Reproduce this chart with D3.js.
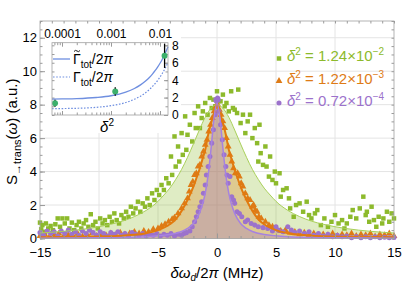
<!DOCTYPE html>
<html>
<head>
<meta charset="utf-8">
<script src="https://cdn.jsdelivr.net/npm/d3@7"></script>
<style>
  body { margin: 0; background: #fff; }
  svg { display: block; font-family: "Liberation Sans", Arial, sans-serif; }
  .tick line { stroke: #9a9a9a; }
</style>
</head>
<body>
<div id="chart"></div>
<script>
// main plot tick labels
var xTicks = [-15, -10, -5, 0, 5, 10, 15];
var yTicks = [0, 2, 4, 6, 8, 10, 12];

// legend text (delta^2 values)
var legendMant = ["1.24", "1.22", "0.72"];
var legendExp = ["\u22122", "\u22123", "\u22124"];

// measured spectra, [detuning MHz, S]
var greenPts = [[-15,0.95],[-14.9,0.55],[-14.8,0.8],[-14.6,0.4],[-14.5,0.9],[-14.3,0.6],[-14.1,0.75],[-13.9,0.5],[-13.7,0.85],[-13.5,1.2],[-13.3,0.7],[-13.1,1.2],[-12.9,0.9],[-12.7,1.2],[-12.5,0.6],[-12.3,0.95],[-12.1,0.5],[-11.9,0.8],[-11.7,1.0],[-11.5,0.6],[-11.3,0.9],[-11.1,1.1],[-10.9,0.7],[-10.7,1.45],[-10.5,0.8],[-10.3,1.0],[-10.1,0.6],[-9.9,1.2],[-9.7,0.9],[-9.5,1.1],[-9.3,0.8],[-9.1,1.3],[-8.9,1.0],[-8.7,1.5],[-8.5,1.1],[-8.3,0.9],[-8.1,1.4],[-7.9,1.2],[-7.7,1.6],[-7.5,1.3],[-7.3,1.9],[-7.1,1.5],[-6.9,1.8],[-6.7,2.2],[-6.5,1.6],[-6.3,2.1],[-6.1,1.9],[-5.9,2.4],[-5.7,2.0],[-5.5,2.7],[-5.3,2.3],[-5.1,2.9],[-4.9,2.6],[-4.7,3.2],[-4.5,2.9],[-4.3,3.6],[-4.1,3.3],[-3.9,4.9],[-3.8,3.8],[-3.6,6.1],[-3.5,4.3],[-3.3,5.5],[-3.2,4.6],[-3.0,6.3],[-2.9,5.0],[-2.7,7.3],[-2.6,5.3],[-2.5,6.2],[-2.3,6.8],[-2.1,5.8],[-1.9,7.5],[-1.8,6.6],[-1.6,7.9],[-1.45,6.6],[-1.3,7.2],[-1.2,7.6],[-1.0,8.1],[-0.8,7.4],[-0.6,8.4],[-0.45,7.8],[-0.3,8.3],[-0.15,7.9],[0,8.8],[0.1,8.2],[0.3,8.2],[0.5,8.6],[0.65,7.9],[0.8,8.1],[1.0,7.6],[1.2,8.8],[1.35,7.8],[1.5,7.7],[1.7,7.5],[1.8,8.9],[2.0,6.9],[2.2,7.4],[2.4,6.3],[2.6,7.0],[2.8,7.4],[3.0,6.0],[3.2,6.6],[3.4,5.7],[3.5,4.6],[3.6,6.8],[3.7,5.1],[3.9,4.4],[4.1,5.5],[4.2,4.3],[4.4,3.7],[4.5,4.9],[4.7,3.5],[4.9,4.0],[5.0,3.3],[5.3,3.9],[5.4,2.5],[5.6,2.9],[5.9,3.0],[6.1,2.4],[6.2,1.8],[6.5,1.3],[6.7,2.0],[7.0,2.1],[7.3,1.6],[7.6,2.2],[7.8,1.4],[8.0,1.2],[8.3,1.5],[8.5,1.7],[8.8,0.8],[9.1,1.2],[9.4,0.7],[9.7,1.0],[10.0,1.4],[10.3,0.9],[10.6,1.1],[10.8,0.6],[11.0,0.9],[11.3,1.3],[11.5,1.7],[11.8,1.2],[12.1,1.8],[12.4,2.5],[12.6,1.4],[12.7,1.6],[12.9,1.0],[13.1,1.9],[13.3,1.1],[13.5,0.7],[13.7,1.3],[14.0,0.9],[14.1,1.2],[14.4,1.6],[14.6,1.0],[14.8,1.5],[15.0,1.2]];

var orangePts = [[-15,0.15],[-14.6,0.25],[-14.2,0.1],[-13.8,0.2],[-13.4,0.3],[-13.0,0.12],[-12.6,0.22],[-12.2,0.15],[-11.8,0.28],[-11.4,0.12],[-11.0,0.2],[-10.6,0.3],[-10.2,0.15],[-9.8,0.25],[-9.4,0.18],[-9.0,0.3],[-8.6,0.2],[-8.2,0.35],[-7.8,0.25],[-7.4,0.3],[-7.0,0.4],[-6.6,0.3],[-6.2,0.45],[-5.8,0.4],[-5.4,0.55],[-5.0,0.6],[-4.7,0.75],[-4.4,0.85],[-4.1,1.0],[-3.8,1.15],[-3.6,1.25],[-3.3,1.5],[-3.0,1.8],[-2.75,2.1],[-2.5,2.4],[-2.35,2.8],[-2.2,3.2],[-2.05,3.4],[-1.9,3.8],[-1.75,3.9],[-1.6,4.3],[-1.45,4.4],[-1.3,4.9],[-1.15,5.2],[-1.0,5.6],[-0.85,5.9],[-0.7,6.4],[-0.55,6.8],[-0.4,7.2],[-0.25,7.6],[-0.1,7.9],[0.05,8.0],[0.2,7.7],[0.35,7.4],[0.5,7.0],[0.65,6.6],[0.8,6.0],[0.95,5.5],[1.1,5.0],[1.25,4.6],[1.4,4.2],[1.55,3.9],[1.75,3.9],[1.9,3.7],[2.05,3.3],[2.2,3.1],[2.4,2.7],[2.6,2.4],[2.8,2.3],[3.0,1.9],[3.1,2.0],[3.25,1.7],[3.4,1.6],[3.55,1.3],[3.75,1.2],[4.1,1.0],[4.4,0.8],[4.7,0.7],[5.0,0.6],[5.4,0.45],[5.8,0.5],[6.2,0.35],[6.6,0.4],[7.0,0.25],[7.4,0.35],[7.8,0.2],[8.2,0.3],[8.6,0.15],[9.0,0.25],[9.4,0.2],[9.8,0.3],[10.2,0.15],[10.6,0.25],[11.0,0.2],[11.4,0.3],[11.8,0.15],[12.2,0.25],[12.6,0.2],[13.0,0.3],[13.4,0.12],[13.8,0.25],[14.2,0.2],[14.6,0.3],[15.0,0.15]];

var purplePts = [[-15,0.35],[-14.7,0.2],[-14.4,0.45],[-14.1,0.3],[-13.8,0.4],[-13.5,0.15],[-13.2,0.45],[-12.9,0.3],[-12.6,0.5],[-12.3,0.25],[-12.0,0.4],[-11.7,0.2],[-11.4,0.45],[-11.1,0.3],[-10.8,0.5],[-10.5,0.35],[-10.2,0.2],[-9.9,0.4],[-9.6,0.3],[-9.3,0.15],[-9.0,0.35],[-8.7,0.25],[-8.4,0.4],[-8.1,0.2],[-7.8,0.3],[-7.5,0.15],[-7.2,0.35],[-6.9,0.25],[-6.6,0.2],[-6.3,0.3],[-6.0,0.15],[-5.7,0.25],[-5.4,0.2],[-5.1,0.3],[-4.8,0.15],[-4.5,0.25],[-4.2,0.2],[-3.9,0.3],[-3.6,0.15],[-3.3,0.25],[-3.0,0.2],[-2.8,0.3],[-2.6,0.35],[-2.3,0.45],[-2.1,0.7],[-1.9,1.0],[-1.75,1.3],[-1.6,1.6],[-1.45,1.9],[-1.3,2.2],[-1.15,2.7],[-1.0,3.2],[-0.9,3.8],[-0.75,4.3],[-0.6,4.9],[-0.45,5.7],[-0.3,6.5],[-0.15,7.4],[-0.1,8.3],[-0.05,8.2],[0.05,8.4],[0.1,8.3],[0.15,7.6],[0.3,6.8],[0.45,5.9],[0.6,5.0],[0.75,4.3],[0.85,3.8],[0.95,3.3],[1.1,3.7],[1.25,2.5],[1.4,2.3],[1.5,2.1],[1.7,1.6],[1.9,1.5],[2.1,1.3],[2.4,1.0],[2.6,1.1],[2.9,0.9],[3.2,0.8],[3.5,0.7],[3.9,0.65],[4.3,0.6],[4.7,0.45],[5.0,0.7],[5.2,0.5],[5.6,0.4],[6.0,0.7],[6.3,0.5],[6.6,0.35],[7.0,0.45],[7.4,0.3],[7.8,0.4],[8.2,0.2],[8.6,0.3],[9.0,0.15],[9.4,0.25],[9.8,0.1],[10.2,0.2],[10.6,0.1],[11.0,0.15],[11.4,0.05],[11.8,0.12],[12.2,0.05],[12.6,0.1],[13.0,0.05],[13.4,0.1],[13.8,0.05],[14.2,0.08],[14.6,0.04],[15,0.06]];

// fitted curves
var greenFitX = [-15,-13,-11,-9,-8,-7,-6,-5,-4.5,-4,-3.5,-3,-2.5,-2,-1.5,-1,-0.5,0,0.5,1,1.5,2,2.5,3,3.5,4,4.5,5,6,7,8,9,11,13,15];
var greenFitY = [0.33,0.43,0.59,0.85,1.04,1.31,1.68,2.22,2.60,3.01,3.53,4.13,4.85,5.65,6.48,7.25,7.79,8.0,7.79,7.25,6.48,5.65,4.85,4.13,3.53,3.01,2.60,2.22,1.68,1.31,1.04,0.85,0.59,0.43,0.33];

var orangeFitX = [-15,-12,-10,-8,-7,-6,-5,-4,-3.5,-3,-2.5,-2,-1.75,-1.5,-1.25,-1,-0.75,-0.5,-0.25,0,0.25,0.5,0.75,1,1.25,1.5,1.75,2,2.5,3,3.5,4,5,6,7,8,10,12,15];
var orangeFitY = [0.08,0.10,0.12,0.17,0.22,0.32,0.50,0.85,1.15,1.65,2.3,3.1,3.6,4.1,4.7,5.3,6.2,6.9,7.5,8.0,7.5,6.9,6.2,5.3,4.7,4.1,3.6,3.1,2.3,1.65,1.15,0.85,0.50,0.32,0.22,0.17,0.12,0.10,0.08];

var purpleFitX = [-15,-10,-8,-6,-5,-4,-3,-2.5,-2,-1.5,-1.25,-1,-0.75,-0.5,-0.25,0,0.25,0.5,0.75,1,1.25,1.5,2,2.5,3,4,5,6,8,10,15];
var purpleFitY = [0.02,0.04,0.06,0.11,0.16,0.24,0.42,0.6,0.9,1.5,2.0,2.7,3.8,5.4,7.2,8.1,7.2,5.4,3.8,2.7,2.0,1.5,0.9,0.6,0.42,0.24,0.16,0.11,0.06,0.04,0.02];

// inset: linewidth vs delta^2
var insetTickVals = [1e-4, 1e-3, 1e-2];
var insetTickLabels = ["0.0001", "0.001", "0.01"];
var insetYTicks = [0, 2, 4, 6, 8];
var insetDelta2 = [7.2e-5, 1.22e-3, 1.24e-2];
var insetGamma = [1.34, 2.7, 6.8];
var insetErr = [0.4, 0.5, 1.4];
var insetFitX = [6.25e-5,1e-4,2e-4,5e-4,1e-3,2e-3,3e-3,4e-3,5e-3,6e-3,7e-3,8e-3,9e-3,1e-2,1.1e-2,1.2e-2,1.3e-2,1.4e-2,1.456e-2];
var insetTildeY = [1.82,1.84,1.88,2.01,2.21,2.63,3.04,3.46,3.87,4.28,4.70,5.11,5.53,5.94,6.35,6.77,7.18,7.60,7.83];
var insetBareY = [0.72,0.74,0.77,0.88,1.07,1.43,1.80,2.16,2.53,2.90,3.26,3.63,3.99,4.36,4.73,5.09,5.46,5.82,6.03];

var w = 415, h = 283;
var colGreen = "#8dba2c", colOrange = "#de7b16", colPurple = "#9c72cc";

var svg = d3.select("#chart").append("svg")
    .attr("width", w)
    .attr("height", h);

var x = d3.scaleLinear().domain([-15, 15]).range([40, 394]);
var y = d3.scaleLinear().domain([0, 13]).range([238.5, 21]);

var minus = function (d) { return d < 0 ? "\u2212" + (-d) : "" + d; };

// grid
svg.append("g").selectAll("line")
    .data([-10, -5, 0, 5, 10])
    .enter().append("line")
    .attr("x1", d => x(d)).attr("x2", d => x(d))
    .attr("y1", y(13)).attr("y2", y(0))
    .style("stroke", "#e4e4e4");
svg.append("g").selectAll("line")
    .data([2, 4, 6, 8, 10, 12])
    .enter().append("line")
    .attr("x1", x(-15)).attr("x2", x(15))
    .attr("y1", d => y(d)).attr("y2", d => y(d))
    .style("stroke", "#e4e4e4");

// white area behind the inset
svg.append("rect")
    .attr("x", x(-15)).attr("y", y(13))
    .attr("width", 141).attr("height", 112)
    .style("fill", "#fff");

// fills, points, fit lines
var series = [
    {pts: greenPts, fx: greenFitX, fy: greenFitY, col: colGreen, line: "#a9d05a", lw: 1, op: 0.28, shape: d3.symbolSquare, size: 20},
    {pts: orangePts, fx: orangeFitX, fy: orangeFitY, col: colOrange, line: "#e27a0e", lw: 2, op: 0.3, shape: d3.symbolTriangle, size: 20},
    {pts: purplePts, fx: purpleFitX, fy: purpleFitY, col: colPurple, line: "#a682e0", lw: 1.5, op: 0.3, shape: d3.symbolCircle, size: 20}
];

var area = d3.area()
    .x(d => x(d[0])).y0(y(0)).y1(d => y(d[1]))
    .curve(d3.curveMonotoneX);
var line = d3.line()
    .x(d => x(d[0])).y(d => y(d[1]))
    .curve(d3.curveMonotoneX);

var plot = svg.append("g");
series.forEach(function (s) {
    s.fit = s.fx.map((v, i) => [v, s.fy[i]]);
    plot.append("path")
        .datum(s.fit)
        .attr("d", area)
        .style("fill", s.col)
        .style("fill-opacity", s.op);
});
series.forEach(function (s) {
    plot.append("g").selectAll("path")
        .data(s.pts)
        .enter().append("path")
        .attr("d", d3.symbol().type(s.shape).size(s.size))
        .attr("transform", d => "translate(" + x(d[0]) + "," + y(d[1]) + ")")
        .style("fill", s.col);
});
series.forEach(function (s) {
    plot.append("path")
        .datum(s.fit)
        .attr("d", line)
        .style("fill", "none")
        .style("stroke", s.line)
        .style("stroke-width", s.lw);
});

// frame and ticks
function styleAxis(g) {
    g.select(".domain").remove();
    g.selectAll("text").style("font-size", "13px").style("fill", "#000");
}
svg.append("g")
    .attr("transform", "translate(0," + y(0) + ")")
    .call(d3.axisBottom(x).tickValues(xTicks).tickSize(-5).tickPadding(9).tickFormat(minus))
    .call(styleAxis);
svg.append("g")
    .attr("transform", "translate(0," + y(0) + ")")
    .call(d3.axisBottom(x).tickValues(d3.range(-15, 16, 1)).tickSize(-2.5).tickFormat(""))
    .call(styleAxis);
svg.append("g")
    .attr("transform", "translate(0," + y(13) + ")")
    .call(d3.axisTop(x).tickValues(d3.range(-15, 16, 1)).tickSize(-2.5).tickFormat(""))
    .call(styleAxis);
svg.append("g")
    .attr("transform", "translate(" + x(-15) + ",0)")
    .call(d3.axisLeft(y).tickValues(yTicks).tickSize(-5).tickPadding(3).tickFormat(minus))
    .call(styleAxis);
svg.append("g")
    .attr("transform", "translate(" + x(-15) + ",0)")
    .call(d3.axisLeft(y).tickValues(d3.range(0, 13.1, 0.5)).tickSize(-2.5).tickFormat(""))
    .call(styleAxis);
svg.append("g")
    .attr("transform", "translate(" + x(15) + ",0)")
    .call(d3.axisRight(y).tickValues(d3.range(0, 13.1, 0.5)).tickSize(-2.5).tickFormat(""))
    .call(styleAxis);
svg.append("rect")
    .attr("x", x(-15)).attr("y", y(13))
    .attr("width", x(15) - x(-15)).attr("height", y(0) - y(13))
    .style("fill", "none").style("stroke", "#a0a0a0").style("stroke-width", 0.8);

// axis labels
var yl = svg.append("text")
    .attr("transform", "translate(17," + ((y(0) + y(13)) / 2 + 2) + ")rotate(-90)")
    .attr("text-anchor", "middle")
    .style("font-size", "15px");
yl.append("tspan").text("S");
yl.append("tspan").attr("dy", 4).style("font-size", "11px").text("\u2192trans");
yl.append("tspan").attr("dy", -4).text("(");
yl.append("tspan").style("font-style", "italic").text("\u03c9");
yl.append("tspan").text(") (a.u.)");

var xl = svg.append("text")
    .attr("x", x(0)).attr("y", 278)
    .attr("text-anchor", "middle")
    .style("font-size", "15px");
xl.append("tspan").style("font-style", "italic").text("\u03b4\u03c9");
xl.append("tspan").attr("dy", 3).style("font-size", "10px").style("font-style", "italic").text("d");
xl.append("tspan").attr("dy", -3).text("/2");
xl.append("tspan").style("font-style", "italic").text("\u03c0");
xl.append("tspan").text(" (MHz)");

// legend
var legendY = [61, 83.5, 105.5];
series.forEach(function (s, i) {
    svg.append("path")
        .attr("d", d3.symbol().type(s.shape).size(s.size))
        .attr("transform", "translate(279," + (legendY[i] - 2.5) + ")")
        .style("fill", s.col);
    var t = svg.append("text")
        .attr("x", 287).attr("y", legendY[i])
        .style("font-size", "15px")
        .style("fill", s.col);
    t.append("tspan").style("font-style", "italic").text("\u03b4");
    t.append("tspan").attr("dy", -6).style("font-size", "10px").text("2");
    t.append("tspan").attr("dy", 6).text(" = " + legendMant[i] + "\u00d710");
    t.append("tspan").attr("dy", -6).style("font-size", "10px").text(legendExp[i]);
});

// inset
var ix = d3.scaleLog().domain([6.25e-5, 1.456e-2]).range([52, 168]);
var iy = d3.scaleLinear().domain([0, 8.3]).range([115, 42.7]);
var inset = svg.append("g");

var minorLog = [];
[1e-5, 1e-4, 1e-3].forEach(function (b) {
    [2, 3, 4, 5, 6, 7, 8, 9].forEach(function (m) {
        var v = b * m;
        if (v > 6.25e-5 && v < 1.456e-2) minorLog.push(v);
    });
});

inset.append("g")
    .attr("transform", "translate(0," + iy.range()[1] + ")")
    .call(d3.axisTop(ix).tickValues(insetTickVals).tickSize(-4).tickPadding(5)
        .tickFormat((d, i) => insetTickLabels[i]))
    .call(styleAxis)
    .selectAll("text").style("font-size", "12px");
inset.append("g")
    .attr("transform", "translate(0," + iy.range()[1] + ")")
    .call(d3.axisTop(ix).tickValues(minorLog).tickSize(-2.5).tickFormat(""))
    .call(styleAxis);
inset.append("g")
    .attr("transform", "translate(0," + iy.range()[0] + ")")
    .call(d3.axisBottom(ix).tickValues(insetTickVals).tickSize(-4).tickFormat(""))
    .call(styleAxis);
inset.append("g")
    .attr("transform", "translate(0," + iy.range()[0] + ")")
    .call(d3.axisBottom(ix).tickValues(minorLog).tickSize(-2.5).tickFormat(""))
    .call(styleAxis);
inset.append("g")
    .attr("transform", "translate(" + ix.range()[1] + ",0)")
    .call(d3.axisRight(iy).tickValues(insetYTicks).tickSize(-4).tickPadding(4))
    .call(styleAxis)
    .selectAll("text").style("font-size", "12px");
inset.append("g")
    .attr("transform", "translate(" + ix.range()[1] + ",0)")
    .call(d3.axisRight(iy).tickValues(d3.range(0, 8.1, 1)).tickSize(-2.5).tickFormat(""))
    .call(styleAxis);
inset.append("g")
    .attr("transform", "translate(" + ix.range()[0] + ",0)")
    .call(d3.axisLeft(iy).tickValues(d3.range(0, 8.1, 1)).tickSize(-2.5).tickFormat(""))
    .call(styleAxis);

var iline = d3.line()
    .x(d => ix(d[0])).y(d => iy(d[1]))
    .curve(d3.curveMonotoneX);
inset.append("path")
    .datum(insetFitX.map((v, i) => [v, insetBareY[i]]))
    .attr("d", iline)
    .style("fill", "none").style("stroke", "#6f8fe0")
    .style("stroke-width", 1.2).style("stroke-dasharray", "1.6,1.6");
inset.append("path")
    .datum(insetFitX.map((v, i) => [v, insetTildeY[i]]))
    .attr("d", iline)
    .style("fill", "none").style("stroke", "#6f8fe0")
    .style("stroke-width", 1.3);

inset.append("g").selectAll("line")
    .data(insetDelta2)
    .enter().append("line")
    .attr("x1", d => ix(d)).attr("x2", d => ix(d))
    .attr("y1", (d, i) => iy(insetGamma[i] - insetErr[i]))
    .attr("y2", (d, i) => iy(insetGamma[i] + insetErr[i]))
    .style("stroke", "#000").style("stroke-width", 1.3);
inset.append("g").selectAll("circle")
    .data(insetDelta2)
    .enter().append("circle")
    .attr("cx", d => ix(d))
    .attr("cy", (d, i) => iy(insetGamma[i]))
    .attr("r", 3)
    .style("fill", "#3cb06c");

inset.append("rect")
    .attr("x", 52).attr("y", 42.7)
    .attr("width", 116).attr("height", 72.3)
    .style("fill", "none").style("stroke", "#a0a0a0").style("stroke-width", 0.8);

// inset legend
inset.append("line").attr("x1", 53).attr("x2", 70).attr("y1", 59).attr("y2", 59)
    .style("stroke", "#6f8fe0").style("stroke-width", 1.3);
inset.append("line").attr("x1", 53).attr("x2", 70).attr("y1", 77).attr("y2", 77)
    .style("stroke", "#6f8fe0").style("stroke-width", 1.2).style("stroke-dasharray", "1.6,1.6");
var l1 = inset.append("text").attr("x", 73).attr("y", 64).style("font-size", "14px");
l1.append("tspan").text("\u0393");
l1.append("tspan").attr("dy", 4).style("font-size", "10px").text("tot");
l1.append("tspan").attr("dy", -4).text("/2");
l1.append("tspan").style("font-style", "italic").text("\u03c0");
// tilde over the first Gamma
inset.append("path")
    .attr("d", "M74,51.5 Q75.5,49.5 77,51 T80,50.5")
    .style("fill", "none").style("stroke", "#000").style("stroke-width", 0.9);
var l2 = inset.append("text").attr("x", 73).attr("y", 82).style("font-size", "14px");
l2.append("tspan").text("\u0393");
l2.append("tspan").attr("dy", 4).style("font-size", "10px").text("tot");
l2.append("tspan").attr("dy", -4).text("/2");
l2.append("tspan").style("font-style", "italic").text("\u03c0");

var il = inset.append("text").attr("x", 107).attr("y", 132)
    .attr("text-anchor", "middle").style("font-size", "15px");
il.append("tspan").style("font-style", "italic").text("\u03b4");
il.append("tspan").attr("dy", -6).style("font-size", "10px").text("2");
</script>
</body>
</html>
